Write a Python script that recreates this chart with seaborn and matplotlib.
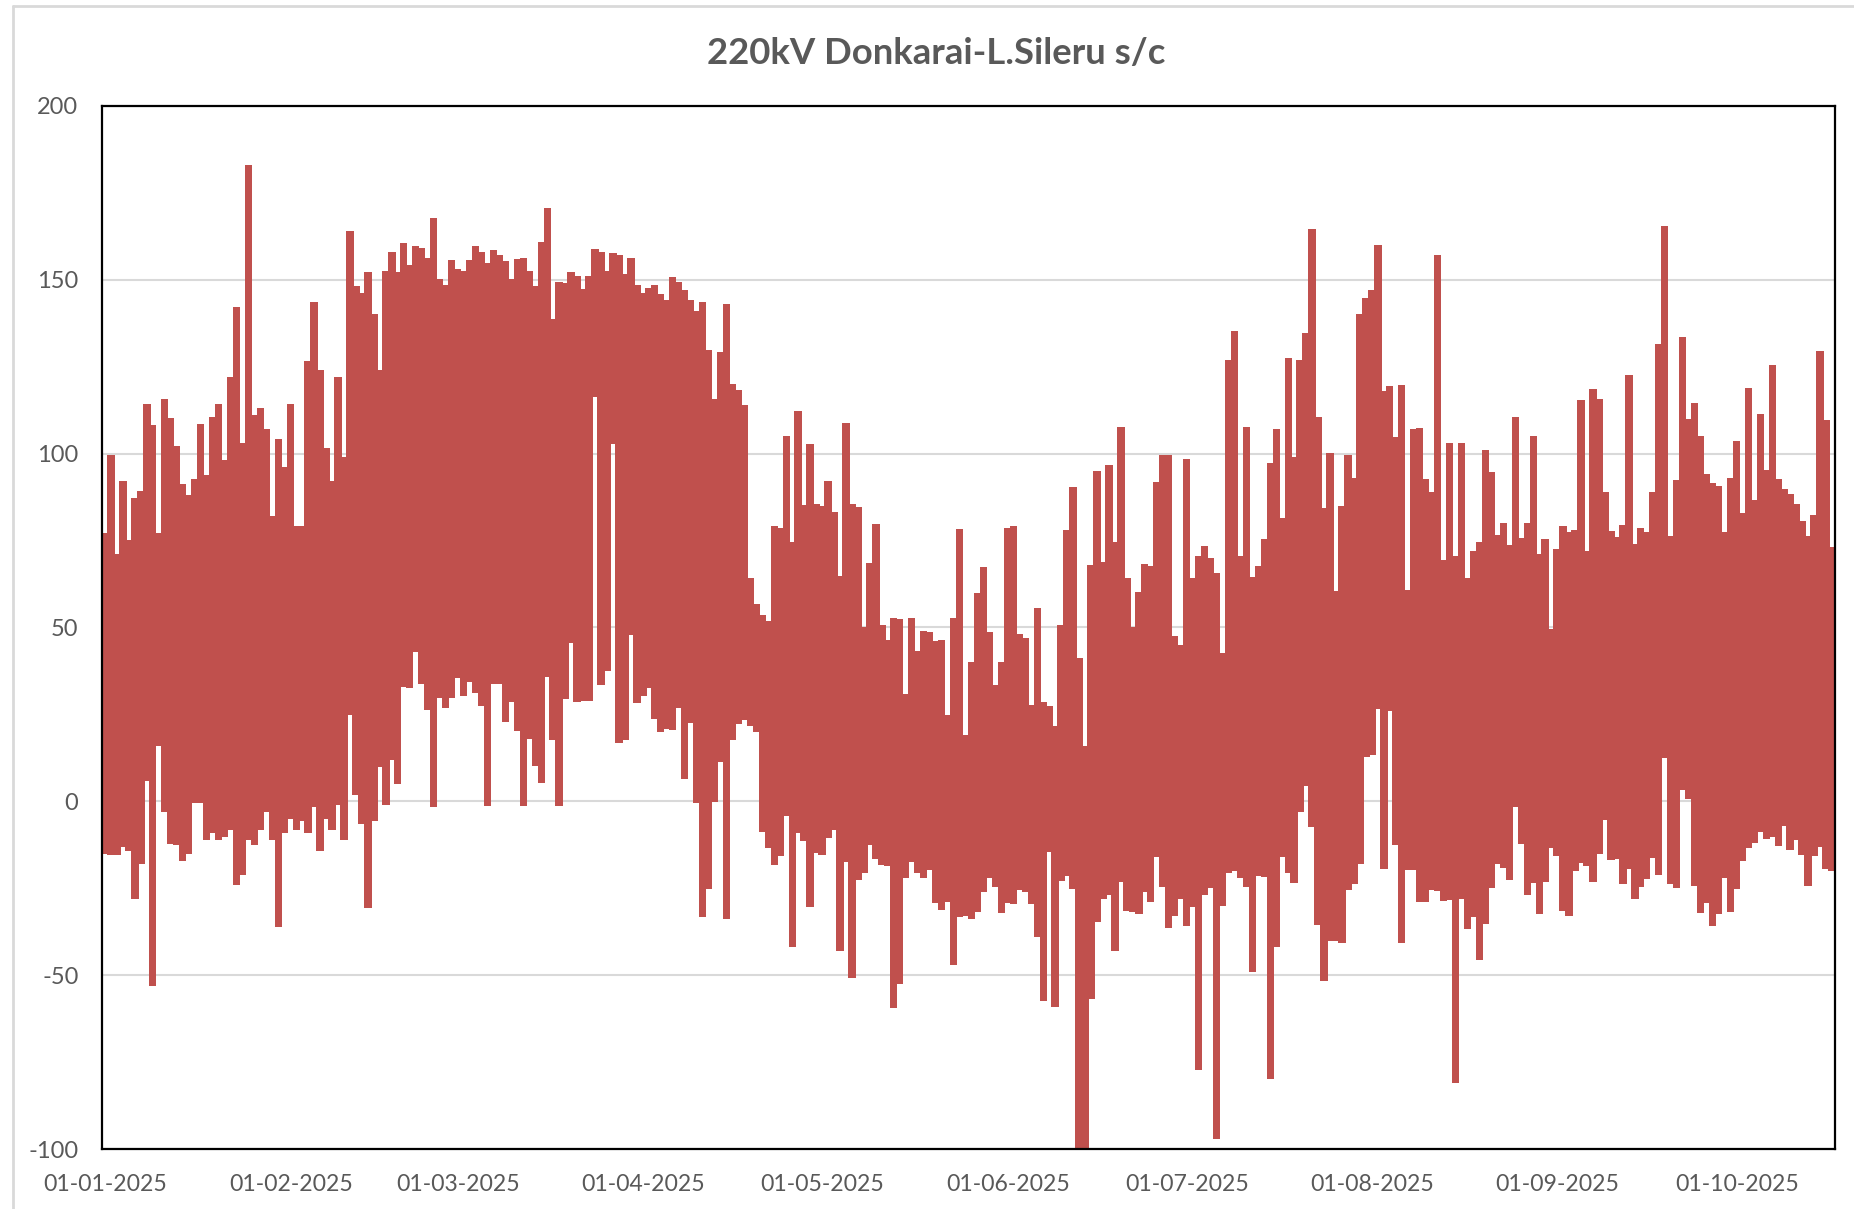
import pandas as pd
import numpy as np
import matplotlib.pyplot as plt
import matplotlib.dates as mdates
from matplotlib.lines import Line2D
from matplotlib.transforms import ScaledTranslation
import seaborn as sns

start_date = '2025-01-01'
end_date = '2025-10-18'

title_text = '220kV Donkarai-L.Sileru s/c'
y_ticks = [-100, -50, 0, 50, 100, 150, 200]
month_ticks = ['2025-01-01', '2025-02-01', '2025-03-01', '2025-04-01', '2025-05-01',
               '2025-06-01', '2025-07-01', '2025-08-01', '2025-09-01', '2025-10-01']

# 每天的最大值, 从图上读的
daily_high = [
    77, 99.6, 71, 92, 75, 87, 89, 114, 108, 77,
    115.6, 110, 102, 91, 88, 92.5, 108.5, 93.6, 110.5, 114,
    98, 122, 142, 103, 183, 111, 113, 107, 82, 104,
    96, 114, 79, 79, 126.5, 143.5, 124, 101.5, 92, 122,
    99, 164, 148, 146, 152, 140, 124, 152.5, 158, 152,
    160.5, 154, 159.5, 159, 156, 167.5, 150, 148.5, 155.6, 153,
    152.5, 155.6, 159.5, 157.8, 154.6, 158.5, 157, 155.4, 150, 155.8,
    156.2, 152.3, 148, 160.7, 170.5, 138.5, 149.3, 149, 152, 151,
    147.3, 151, 158.7, 157.8, 152.5, 157.6, 157, 151.5, 156, 148.5,
    146, 147.5, 148.3, 145.8, 144, 150.7, 149.3, 146.8, 144, 141,
    143.4, 129.7, 115.5, 129, 143, 120, 118.3, 113.8, 64, 56.6,
    53.4, 51.8, 79, 78.4, 105, 74.5, 112, 85, 102.6, 85.3,
    84.7, 91.9, 83, 64.8, 108.8, 85.3, 84.5, 50, 68.4, 79.6,
    50.5, 46.4, 52.7, 52.3, 30.8, 52.7, 43.2, 48.9, 48.5, 46,
    46.4, 24.8, 52.7, 78.2, 19, 40, 59.9, 67.2, 48.5, 33.2,
    40, 78.6, 79, 47.9, 46.8, 27.5, 55.6, 28.5, 27.3, 21.4,
    50.7, 78, 90.4, 41, 15.7, 67.8, 95, 68.8, 96.7, 74.5,
    107.5, 64, 50, 60, 68.2, 67.6, 91.6, 99.4, 99.6, 47.3,
    44.8, 98.2, 64, 70.3, 73.3, 69.9, 65.4, 42.4, 126.9, 135,
    70.3, 107.5, 64.4, 67.6, 75.2, 97.1, 107, 81.3, 127.3, 98.8,
    126.9, 134.6, 164.4, 110.4, 84.3, 100, 60.3, 84.9, 99.6, 93,
    140, 144.6, 146.8, 159.9, 118, 119.3, 104.7, 119.5, 60.5, 107,
    107.3, 92.7, 88.8, 157, 69.2, 102.9, 70.3, 102.9, 64, 72,
    74.5, 101, 94.5, 76.6, 80, 73.5, 110.4, 75.6, 79.8, 104.9,
    70.9, 75.2, 49.5, 72.3, 79, 77.4, 77.8, 115.3, 72, 118.5,
    115.7, 88.8, 77.6, 75.8, 79.4, 122.4, 73.9, 78.4, 77.4, 88.8,
    131.4, 165.4, 76.2, 92.3, 133.4, 109.8, 114.3, 104.9, 93.9, 91.4,
    90.6, 77.4, 93, 103.5, 82.9, 118.7, 86.4, 111.4, 95.3, 125.5,
    92.7, 89.8, 88.2, 85.5, 80.4, 76.2, 82.1, 129.3, 109.4, 73.1,
]

# 每天的最小值
daily_low = [
    -15, -15.3, -15.3, -13, -14, -28, -18, 6, -53, 16,
    -3, -12, -12.4, -17, -15, -0.4, -0.4, -11, -9, -11,
    -10, -8, -24, -21, -11, -12.4, -8, -3, -11, -36,
    -9, -5, -8, -5.5, -9, -1.5, -14, -5, -8, -1,
    -11, 25, 2, -6.5, -30.5, -5.5, 10, -1, 12, 5,
    33, 32.6, 43, 34, 26.4, -1.5, 30, 27, 30, 35.6,
    30.5, 34.6, 31.4, 27.7, -1.2, 34, 34, 23, 28.7, 20.4,
    -1.2, 18, 10.4, 5.5, 36, 17.7, -1.2, 29.5, 45.6, 28.7,
    29, 29, 116.3, 33.6, 37.5, 103, 17, 17.7, 48, 28.3,
    30.3, 32.6, 23.8, 20, 21, 20.8, 27, 6.5, 22.6, -0.2,
    -33, -25, 0, 11.6, -33.8, 17.7, 22.4, 23.6, 21.8, 20,
    -8.8, -13.4, -18.3, -15.7, -4, -41.8, -9, -11.4, -30.3, -14.7,
    -15.3, -10.4, -8, -43, -17.3, -50.7, -22.6, -20.4, -12.4, -16.5,
    -18.3, -18.5, -59.3, -52.3, -21.8, -17.3, -20.6, -21.8, -19.6, -29,
    -31, -28.7, -46.8, -33.2, -32.8, -33.6, -31.6, -25.9, -21.8, -24.6,
    -32, -29, -29.5, -25.5, -26, -29.3, -39, -57.4, -14.5, -58.9,
    -22.8, -21.4, -25, -102, -102, -56.6, -34.6, -28, -26.9, -42.8,
    -23.2, -31.4, -31.6, -32.2, -26, -28.7, -15.9, -24.6, -36.3, -32.8,
    -28, -35.6, -30.3, -77, -26.9, -24.8, -97, -30, -20.4, -19.8,
    -22, -24.6, -49, -21.2, -21.6, -79.8, -41.8, -15.9, -20.4, -23.4,
    -2.9, 4.5, -7.1, -35.4, -51.5, -40, -40, -40.5, -25.5, -23.6,
    -18, 12.8, 13.4, 26.7, -19.3, 26, -12.4, -40.7, -19.6, -19.6,
    -28.7, -28.7, -25.5, -25.7, -28.5, -28.3, -81, -28, -36.5, -33.2,
    -45.6, -35.2, -24.8, -17.9, -18.9, -22.6, -1.4, -12, -26.7, -23.4,
    -32.4, -23.2, -13.4, -15.7, -31.4, -32.8, -20, -17.7, -18.5, -23.2,
    -14.9, -5.1, -16.7, -16.3, -23.6, -19.3, -27.9, -24.4, -22.2, -16.1,
    -21, 12.6, -23.6, -24.8, 3.5, 0.8, -24.2, -32, -29, -35.8,
    -32.4, -21.8, -31.6, -25, -16.9, -13.4, -11.8, -8.6, -10.8, -10.2,
    -12.6, -6.9, -13.8, -11, -15.3, -24.2, -15.5, -13, -19.3, -19.8,
]

# 整理成长表, 每天两行 (最大/最小), 竖线画在当天中间
days = pd.date_range(start_date, periods=len(daily_high), freq='D') + pd.Timedelta(hours=12)
df = pd.DataFrame({
    'day': np.tile(np.arange(len(days)), 2),
    'date': np.tile(days, 2),
    'value': daily_high + daily_low,
})

sns.set_style('white')
plt.rcParams['font.family'] = ['Lato', 'DejaVu Sans']
plt.rcParams['axes.unicode_minus'] = False  # 原图负号是短横线

fig = plt.figure(figsize=(18.54, 12.09), dpi=100)
W, H = 1854, 1209
ax = fig.add_axes([102 / W, 1 - 1149 / H, (1835 - 102) / W, (1149 - 106) / H])

# 关掉抗锯齿, 不然相邻两天之间有缝
sns.lineplot(data=df, x='date', y='value', units='day', estimator=None, ax=ax,
             color='#C0504D', linewidth=4.6, solid_capstyle='butt', snap=False,
             antialiased=False, legend=False, zorder=3)

ax.set_xlim(pd.Timestamp(start_date), pd.Timestamp(end_date))
ax.set_ylim(-100, 200)
ax.set_yticks(y_ticks)
ax.set_xticks(pd.to_datetime(month_ticks))
ax.xaxis.set_major_formatter(mdates.DateFormatter('%d-%m-%Y'))
ax.set_xlabel('')
ax.set_ylabel('')

ax.yaxis.grid(True, color='#D9D9D9', linewidth=1.5)
ax.xaxis.grid(False)
ax.set_axisbelow(True)
for side in ax.spines.values():
    side.set_color('black')
    side.set_linewidth(1.6)
    side.set_zorder(5)

ax.tick_params(axis='x', length=0, pad=18, labelsize=16.6, labelcolor='#595959')
ax.tick_params(axis='y', length=0, pad=17, labelsize=17, labelcolor='#595959')

# x 轴标签整体往右挪一点
label_shift = ScaledTranslation(2.5 / 72, 0, fig.dpi_scale_trans)
for label in ax.get_xticklabels():
    label.set_transform(label.get_transform() + label_shift)

fig.text(936 / W, 1 - 53 / H, title_text, ha='center', va='center',
         fontsize=26.3, fontweight='bold', color='#595959')

# 外面那圈浅灰边框, 只看得到左边和上边
fig.add_artist(Line2D([13 / W, 13 / W], [0, 1 - 6 / H], color='#D9D9D9', linewidth=2))
fig.add_artist(Line2D([13 / W, 1], [1 - 6 / H, 1 - 6 / H], color='#D9D9D9', linewidth=2))

fig.savefig('out.png', dpi=100)
